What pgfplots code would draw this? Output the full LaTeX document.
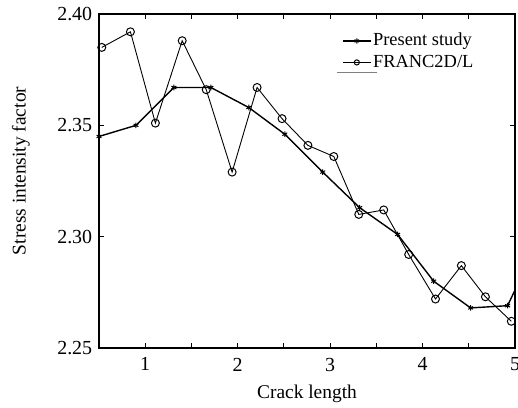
\documentclass[border=0pt]{standalone}
\usepackage{fontspec}
\setmainfont{Liberation Serif}
\usepackage{pgfplots}
\pgfplotsset{compat=1.18}

\begin{document}
\fontsize{20}{24}\selectfont
\begin{tikzpicture}
\begin{axis}[
  at={(99bp,60bp)}, anchor=south west,
  scale only axis,
  width=416bp, height=334bp,
  xmin=0.5, xmax=5, ymin=2.25, ymax=2.40,
  xtick={1,1.5,...,5}, xticklabels={1,,2,,3,,4,,5},
  ytick={2.25,2.30,2.35,2.40},
  yticklabel style={/pgf/number format/.cd, fixed, fixed zerofill, precision=2},
  xticklabel style={yshift=-3bp},
  /pgf/number format/assume math mode=true,
  tick align=inside, major tick length=5bp,
  tick style={black, line width=1.1pt},
  axis line style={line width=1.3pt},
  xlabel={Crack length},
  ylabel={Stress intensity factor},
  xlabel style={yshift=0bp},
  ylabel style={yshift=14bp, xshift=10bp},
  tick label style={font=\fontsize{20}{24}\selectfont},
  label style={font=\fontsize{19.5}{24}\selectfont},
  legend style={draw=none, fill=none, at={(0.584,0.948)}, anchor=north west,
    font=\fontsize{18.5}{20}\selectfont, row sep=3pt,
    inner sep=0pt, nodes={inner sep=1.5bp}},
  legend cell align=left,
  every legend image post/.style={mark size=2.6pt},
  legend image code/.code={
    \draw[mark repeat=2,mark phase=2] plot coordinates {(0bp,0bp) (14bp,0bp) (28bp,0bp)};
  },
]
% Present study
\addplot[black, line width=1.4pt, mark=asterisk, mark size=2.8pt,
  mark options={line width=1pt}] coordinates {
  (0.50,2.345)(0.90,2.350)(1.31,2.367)(1.71,2.367)(2.12,2.358)(2.51,2.346)
  (2.92,2.329)(3.32,2.313)(3.73,2.301)(4.12,2.280)(4.52,2.268)(4.92,2.269)
  (5.33,2.305)
};
\addlegendentry{Present study}
% FRANC2D/L
\addplot[black, line width=0.9pt, mark=o, mark size=4pt,
  mark options={line width=1pt}] coordinates {
  (0.53,2.385)(0.84,2.392)(1.11,2.351)(1.40,2.388)(1.66,2.366)(1.94,2.329)
  (2.21,2.367)(2.48,2.353)(2.76,2.341)(3.04,2.336)(3.31,2.310)(3.58,2.312)
  (3.85,2.292)(4.14,2.272)(4.42,2.287)(4.68,2.273)(4.96,2.262)
};
\addlegendentry{FRANC2D/L}
\draw[gray, line width=0.6pt] (rel axis cs:0.572,0.826) -- (rel axis cs:0.668,0.826);
\end{axis}
\pgfresetboundingbox
\path (0,0) rectangle (518bp,408bp);
\end{tikzpicture}
\end{document}
